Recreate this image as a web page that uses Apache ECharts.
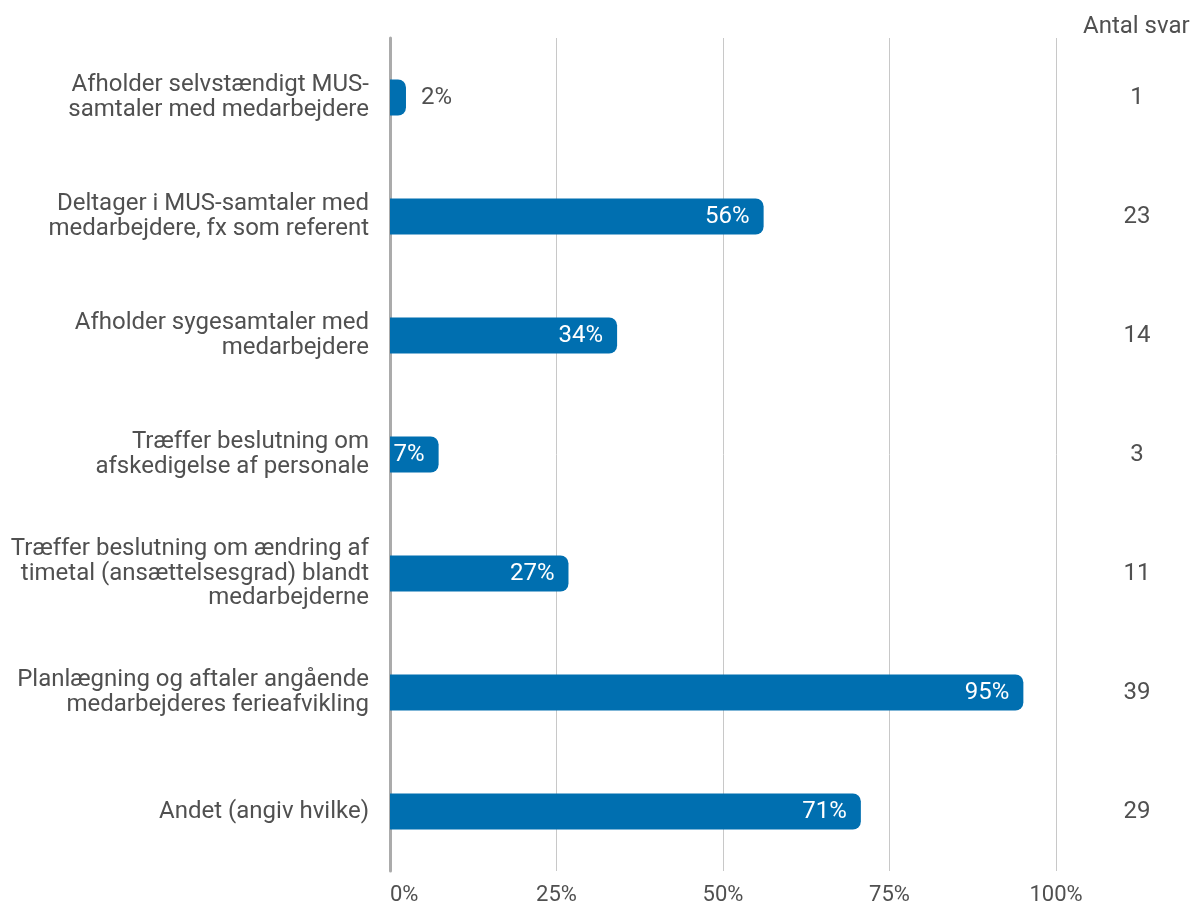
<!DOCTYPE html>
<html><head><meta charset="utf-8">
<script src="https://cdn.jsdelivr.net/npm/echarts@6/dist/echarts.min.js"></script>
<style>html,body{margin:0;padding:0;background:#fff}#c{width:1193px;height:907px}</style>
</head><body><div id="c"></div>
<script>
const categories = [
  "Afholder selvstændigt MUS-\nsamtaler med medarbejdere",
  "Deltager i MUS-samtaler med\nmedarbejdere, fx som referent",
  "Afholder sygesamtaler med\nmedarbejdere",
  "Træffer beslutning om\nafskedigelse af personale",
  "Træffer beslutning om ændring af\ntimetal (ansættelsesgrad) blandt\nmedarbejderne",
  "Planlægning og aftaler angående\nmedarbejderes ferieafvikling",
  "Andet (angiv hvilke)"
];
const percentValues = [2.4, 56.1, 34.1, 7.3, 26.8, 95.1, 70.7];
const answerCounts = ["1", "23", "14", "3", "11", "39", "29"];
const xTicks = [0, 25, 50, 75, 100];

const textColor = '#505050';
const font = 'Roboto';
const fs = 24;
const chart = echarts.init(document.getElementById('c'));
chart.setOption({
  animation: false,
  textStyle: {fontFamily: font},
  title: {
    text: 'Antal svar', left: 1078, top: 10,
    textStyle: {fontFamily: font, fontSize: fs, fontWeight: 'normal', color: textColor}
  },
  grid: {left: 390, right: 137, top: 38, bottom: 36, containLabel: false},
  xAxis: {
    type: 'value', min: xTicks[0], max: xTicks[xTicks.length-1], interval: 25,
    axisLine: {show: false}, axisTick: {show: false},
    splitLine: {show: true, lineStyle: {color: '#c8c8c8', width: 1}},
    axisLabel: {
      formatter: v => v + '%', color: textColor, fontSize: 22, margin: 13,
      fontFamily: font, alignMinLabel: 'left'
    }
  },
  yAxis: [{
    type: 'category', data: categories, inverse: true,
    axisLine: {show: true, lineStyle: {color: '#ababab', width: 3}},
    axisTick: {show: false},
    axisLabel: {color: textColor, fontSize: fs, lineHeight: 24.5, margin: 21, align: 'right', fontFamily: font}
  }, {
    type: 'category', data: answerCounts, inverse: true, position: 'right',
    axisLine: {show: false}, axisTick: {show: false},
    axisLabel: {color: textColor, fontSize: fs, margin: 81, align: 'center', fontFamily: font}
  }],
  series: [{
    type: 'bar', data: percentValues.map((v, i) => ({
      value: v,
      label: i === 0 ? {position: 'right', color: textColor, distance: 15} : {}
    })),
    barWidth: 36,
    itemStyle: {color: '#006fb0', borderRadius: [0, 8, 8, 0]},
    label: {
      show: true, position: 'insideRight', distance: 14, color: '#fff', fontSize: fs, fontFamily: font,
      formatter: p => Math.round(p.value) + '%'
    }
  }]
});
</script></body></html>
